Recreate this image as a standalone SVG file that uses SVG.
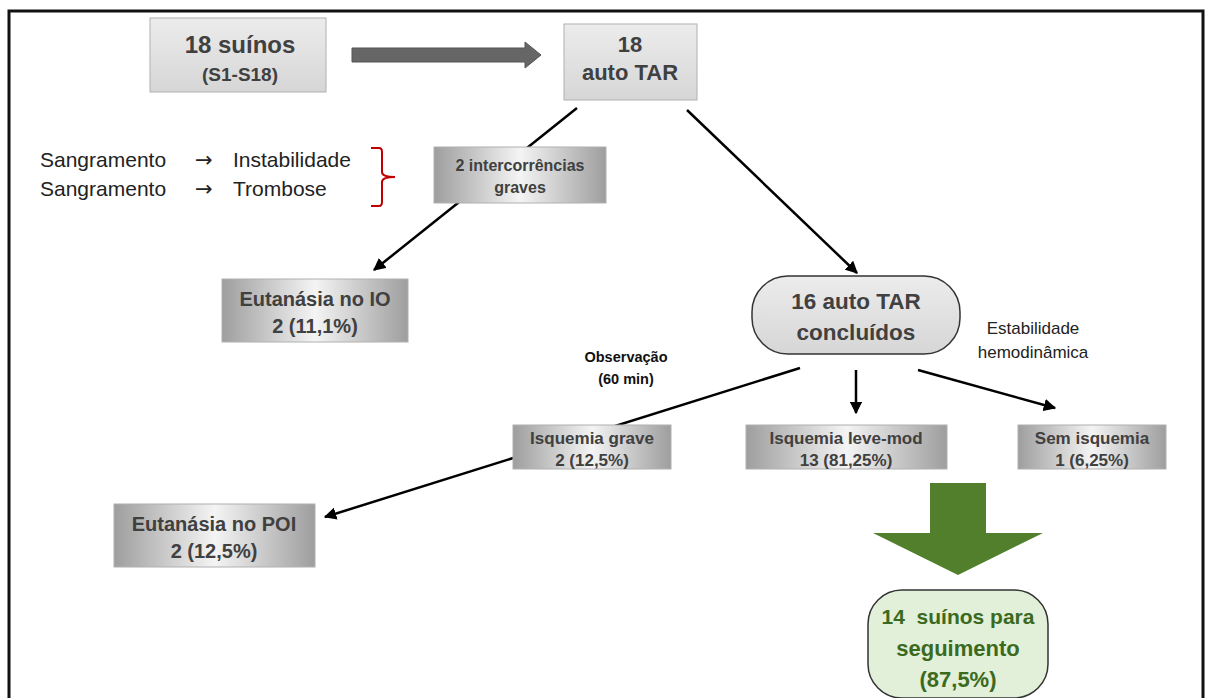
<svg xmlns="http://www.w3.org/2000/svg" width="1205" height="698" viewBox="0 0 1205 698">
<defs>
<linearGradient id="metal" x1="0" y1="0" x2="1" y2="0">
<stop offset="0" stop-color="#9e9e9e"/><stop offset="0.5" stop-color="#f4f4f4"/><stop offset="1" stop-color="#9e9e9e"/>
</linearGradient>
<linearGradient id="light" x1="0" y1="0" x2="0" y2="1">
<stop offset="0" stop-color="#ececec"/><stop offset="1" stop-color="#d6d6d6"/>
</linearGradient>
<marker id="ah" viewBox="0 0 10 10" refX="9" refY="5" markerWidth="5" markerHeight="5" orient="auto" markerUnits="strokeWidth">
<path d="M0,0 L10,5 L0,10 z" fill="#000"/>
</marker>
<style>
.t{font-family:"Liberation Sans",Arial,sans-serif;font-weight:bold;fill:#404040;text-anchor:middle}
.r{font-family:"Liberation Sans",Arial,sans-serif;fill:#222;}
.ar{font-family:"DejaVu Sans",sans-serif;fill:#222;}
.box{stroke:#b0b0b0;stroke-width:1}
.ln{stroke:#000;stroke-width:2.5;fill:none}
</style>
</defs>
<rect width="1205" height="698" fill="#fff"/>
<path d="M9,698 V11 H1203 V698" fill="none" stroke="#111" stroke-width="3"/>

<g id="connectors">
<line class="ln" x1="577" y1="108" x2="374" y2="270" marker-end="url(#ah)"/>
<line class="ln" x1="687" y1="110" x2="857" y2="273" marker-end="url(#ah)"/>
<line class="ln" x1="800" y1="368" x2="325" y2="517" marker-end="url(#ah)"/>
<line class="ln" x1="856" y1="370" x2="856" y2="413" marker-end="url(#ah)"/>
<line class="ln" x1="918" y1="370" x2="1055" y2="408" marker-end="url(#ah)"/>
<path d="M352,48 H525 V42 L541,55 L525,68 V62 H352 z" fill="#666" stroke="#555" stroke-width="1"/>
<path d="M930,483 H986 V533 H1043 L958,575 L873,533 H930 z" fill="#527f2c"/>
</g>

<g id="n-suinos">
<rect class="box" x="150" y="18" width="176" height="74" fill="url(#light)"/>
<text class="t" x="240" y="53" font-size="24">18 suínos</text>
<text class="t" x="240" y="81" font-size="19">(S1-S18)</text>
</g>

<g id="n-autotar">
<rect class="box" x="564" y="24" width="133" height="76" fill="url(#light)"/>
<text class="t" x="630" y="52" font-size="22">18</text>
<text class="t" x="630" y="80" font-size="22">auto TAR</text>
</g>

<g id="n-intercorrencias">
<rect class="box" x="434" y="147" width="172" height="56" fill="url(#metal)"/>
<text class="t" x="520" y="171" font-size="16">2 intercorrências</text>
<text class="t" x="520" y="193" font-size="16">graves</text>
</g>

<g id="n-sangramento">
<text class="r" x="40" y="167" font-size="21">Sangramento</text>
<text class="ar" x="195" y="167" font-size="21">→</text>
<text class="r" x="233" y="167" font-size="21">Instabilidade</text>
<text class="r" x="40" y="196" font-size="21">Sangramento</text>
<text class="ar" x="195" y="196" font-size="21">→</text>
<text class="r" x="233" y="196" font-size="21">Trombose</text>
<path d="M371,148 H379 Q382,148 382,152 V172 Q382,177 395,177 Q382,177 382,182 V202 Q382,206 379,206 H371" fill="none" stroke="#c00000" stroke-width="2"/>
</g>

<g id="n-eutanasia-io">
<rect class="box" x="222" y="279" width="186" height="63" fill="url(#metal)"/>
<text class="t" x="315" y="306" font-size="20">Eutanásia no IO</text>
<text class="t" x="315" y="333" font-size="20">2 (11,1%)</text>
</g>

<g id="n-concluidos">
<rect x="752" y="276" width="208" height="78" rx="36" fill="url(#light)" stroke="#333" stroke-width="1.5"/>
<text class="t" x="856" y="309" font-size="22.5">16 auto TAR</text>
<text class="t" x="856" y="340" font-size="22.5">concluídos</text>
</g>

<g id="n-estabilidade">
<text class="r" x="1033" y="334" font-size="17" text-anchor="middle">Estabilidade</text>
<text class="r" x="1033" y="358" font-size="17" text-anchor="middle">hemodinâmica</text>
</g>

<g id="n-observacao">
<text class="t" x="626" y="362" font-size="14.5" style="fill:#111">Observação</text>
<text class="t" x="626" y="384" font-size="14.5" style="fill:#111">(60 min)</text>
</g>

<g id="n-isq-grave">
<rect class="box" x="513" y="425" width="158" height="44" fill="url(#metal)"/>
<text class="t" x="592" y="444" font-size="17">Isquemia grave</text>
<text class="t" x="592" y="466" font-size="17">2 (12,5%)</text>
</g>

<g id="n-isq-leve">
<rect class="box" x="746" y="425" width="201" height="44" fill="url(#metal)"/>
<text class="t" x="846" y="444" font-size="17">Isquemia leve-mod</text>
<text class="t" x="846" y="466" font-size="17">13 (81,25%)</text>
</g>

<g id="n-sem-isq">
<rect class="box" x="1018" y="425" width="148" height="44" fill="url(#metal)"/>
<text class="t" x="1092" y="444" font-size="17">Sem isquemia</text>
<text class="t" x="1092" y="466" font-size="17">1 (6,25%)</text>
</g>

<g id="n-eutanasia-poi">
<rect class="box" x="114" y="504" width="201" height="63" fill="url(#metal)"/>
<text class="t" x="214" y="531" font-size="20">Eutanásia no POI</text>
<text class="t" x="214" y="558" font-size="20">2 (12,5%)</text>
</g>

<g id="n-seguimento">
<rect x="868" y="590" width="180" height="108" rx="34" fill="#e2efd9" stroke="#333" stroke-width="1.5"/>
<text class="t" x="958" y="624" font-size="21" style="fill:#3b6a1e;white-space:pre">14  suínos para</text>
<text class="t" x="958" y="656" font-size="22" style="fill:#3b6a1e">seguimento</text>
<text class="t" x="958" y="687" font-size="22" style="fill:#3b6a1e">(87,5%)</text>
</g>
</svg>
